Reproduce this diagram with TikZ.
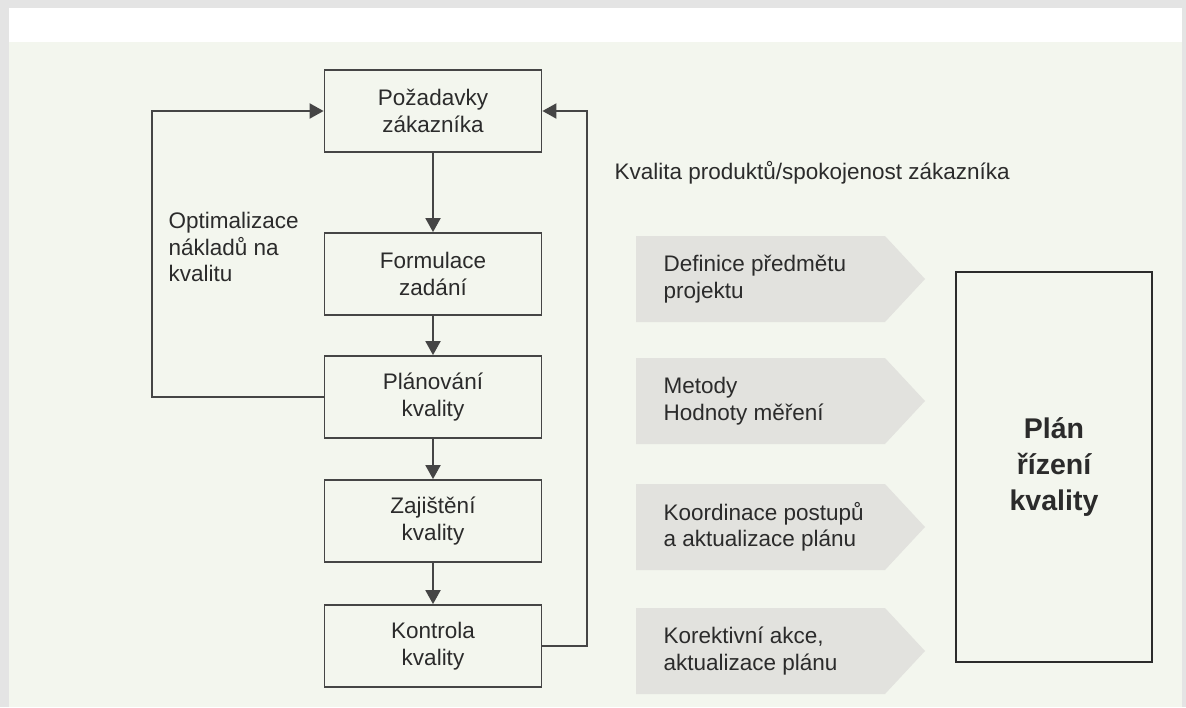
\documentclass[tikz,border=0pt]{standalone}
\usepackage{fontspec}
\setmainfont{Liberation Sans}
\usetikzlibrary{arrows.meta}
\definecolor{Ink}{HTML}{2B2B2B}
\definecolor{LineGray}{HTML}{454545}
\definecolor{Paper}{HTML}{F3F6EE}
\definecolor{Frame}{HTML}{E4E4E4}
\definecolor{Shade}{HTML}{E2E2DE}

\tikzset{
  stepbox/.style={draw=LineGray,line width=1.8pt,minimum width=217pt,minimum height=82pt,
    align=center,text=Ink,font=\fontsize{22.5}{26.5}\selectfont},
  flow/.style={draw=LineGray,line width=1.9pt,-{Triangle[length=14pt,width=15pt]}},
  plainlabel/.style={align=left,text=Ink,font=\fontsize{22.5}{26.5}\selectfont}
}

\begin{document}
\begin{tikzpicture}[x=1pt,y=-1pt]
        \useasboundingbox (0,0) rectangle (1186,707);
        \fill[Frame] (0,0) rectangle (1186,707);
        \fill[white] (9,8) rectangle (1182,707);
        \fill[Paper] (9,42) rectangle (1182,707);
        % quality chain
        \foreach \name/\y/\txt in {
          poz/111/{Požadavky\\zákazníka},form/274/{Formulace\\zadání},
          plan/397/{Plánování\\kvality},zaj/521/{Zajištění\\kvality},
          kon/646/{Kontrola\\kvality}}
          {
            \node[stepbox] (\name) at (433,\y) {\txt};
          }
        \draw[flow] (poz) -- (form);
        \draw[flow] (form) -- (plan);
        \draw[flow] (plan) -- (zaj);
        \draw[flow] (zaj) -- (kon);
        % feedback loops
        \draw[flow] (plan.west) -- ++(-172,0) |- (poz.west);
        \draw[flow] (kon.east) -- ++(45,0) |- (poz.east);
        \node[plainlabel,anchor=west] (opt) at (165,247) {Optimalizace\\nákladů na\\kvalitu};
        \node[plainlabel,anchor=west] (spok) at (611,173) {Kvalita produktů/spokojenost zákazníka};
        % inputs of the plan
        \foreach \y/\txt [count=\i] in {
          279/{Definice předmětu\\projektu},401/{Metody\\Hodnoty měření},
          527/{Koordinace postupů\\a aktualizace plánu},651/{Korektivní akce,\\aktualizace plánu}}
          {
            \fill[Shade] (636,\y-43) -- (885,\y-43) -- (925,\y) -- (885,\y+43) -- (636,\y+43) -- cycle;
            \node[plainlabel,anchor=west] (in\i) at (660,\y) {\txt};
          }
        \node[draw=Ink,line width=1.6pt,minimum width=196pt,minimum height=390pt,align=center,
          text=Ink,font=\fontsize{28.5}{36}\selectfont\bfseries] (kvplan) at (1054,467) {Plán\\řízení\\kvality};
      \end{tikzpicture}
\end{document}
